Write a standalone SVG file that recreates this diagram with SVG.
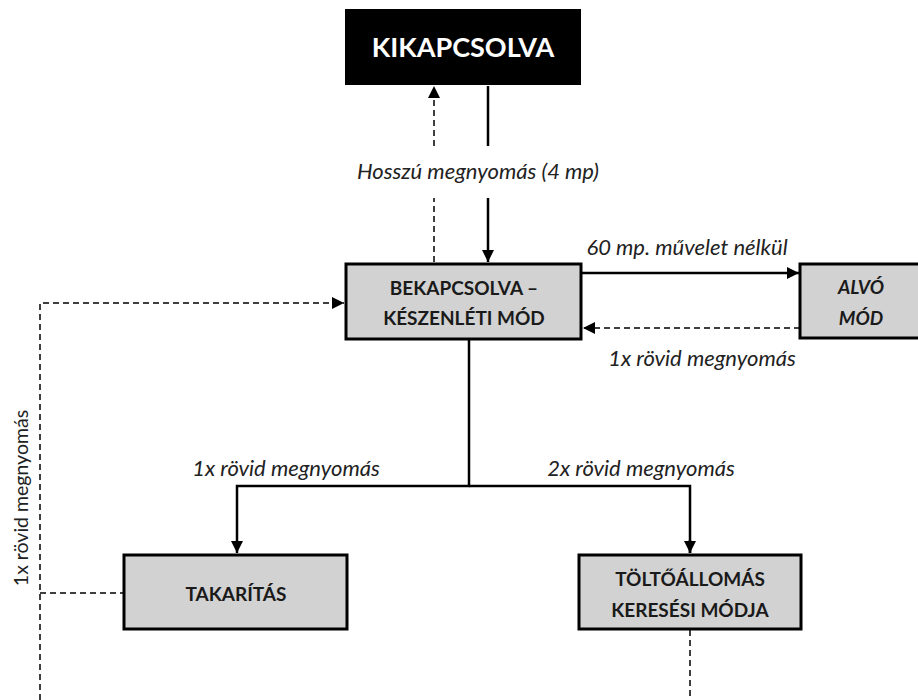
<svg xmlns="http://www.w3.org/2000/svg" width="918" height="700" viewBox="0 0 918 700">
<style>
.box{fill:#d2d2d2;stroke:#000;stroke-width:3}
.bt{font-family:Lato,"Liberation Sans",sans-serif;font-weight:bold;font-size:19px;fill:#1a1a1a;text-anchor:middle}
.lbl{font-family:Lato,"Liberation Sans",sans-serif;font-style:italic;font-size:22px;fill:#222;text-anchor:middle}
.solid{fill:none;stroke:#000;stroke-width:2.5}
.dash{fill:none;stroke:#000;stroke-width:1.5;stroke-dasharray:6 4}
</style>
<defs>
<marker id="ah" markerUnits="userSpaceOnUse" markerWidth="14" markerHeight="14" refX="12" refY="6" orient="auto">
<path d="M0,0 L12,6 L0,12 Z" fill="#000"/>
</marker>
</defs>
<rect width="918" height="700" fill="#fff"/>
<g id="connectors">
<line class="dash" x1="434" y1="262" x2="434" y2="198"/>
<line class="dash" x1="434" y1="146" x2="434" y2="86" marker-end="url(#ah)"/>
<line class="solid" x1="488" y1="86" x2="488" y2="146"/>
<line class="solid" x1="488" y1="198" x2="488" y2="262" marker-end="url(#ah)"/>
<line class="solid" x1="581" y1="273" x2="799" y2="273" marker-end="url(#ah)"/>
<line class="dash" x1="800" y1="328" x2="583" y2="328" marker-end="url(#ah)"/>
<polyline class="solid" points="469,339 469,486 237,486 237,553" marker-end="url(#ah)"/>
<polyline class="solid" points="469,486 690,486 690,553"/>
<line class="solid" x1="690" y1="540" x2="690" y2="553" marker-end="url(#ah)"/>
<polyline class="dash" points="40,700 40,303 344,303" marker-end="url(#ah)"/>
<line class="dash" x1="40" y1="593" x2="124" y2="593"/>
<line class="dash" x1="690" y1="630" x2="690" y2="700"/>
<text class="lbl" x="478" y="179">Hosszú megnyomás (4 mp)</text>
<text class="lbl" x="687" y="255">60 mp. művelet nélkül</text>
<text class="lbl" x="702" y="366">1x rövid megnyomás</text>
<text class="lbl" x="286" y="476">1x rövid megnyomás</text>
<text class="lbl" x="641" y="476">2x rövid megnyomás</text>
<text x="0" y="0" transform="translate(28,498) rotate(-90)" font-family="Lato,'Liberation Sans',sans-serif" font-size="19.5" fill="#222" text-anchor="middle">1x rövid megnyomás</text>
</g>
<g id="kikapcsolva">
<rect x="345" y="9" width="236" height="76" fill="#000"/>
<text x="463" y="57" font-family="Lato,'Liberation Sans',sans-serif" font-weight="bold" font-size="27" fill="#fff" text-anchor="middle">KIKAPCSOLVA</text>
</g>
<g id="bekapcsolva">
<rect class="box" x="346" y="264" width="235" height="75"/>
<text class="bt" x="464" y="295">BEKAPCSOLVA –</text>
<text class="bt" x="464" y="325">KÉSZENLÉTI MÓD</text>
</g>
<g id="alvo">
<rect class="box" x="800" y="264" width="125" height="74"/>
<text class="bt" x="861" y="294" font-style="italic">ALVÓ</text>
<text class="bt" x="861" y="325" font-style="italic">MÓD</text>
</g>
<g id="takaritas">
<rect class="box" x="124" y="555" width="223" height="74"/>
<text class="bt" x="236" y="601">TAKARÍTÁS</text>
</g>
<g id="toltoallomas">
<rect class="box" x="579" y="555" width="222" height="74"/>
<text class="bt" x="690" y="586">TÖLTŐÁLLOMÁS</text>
<text class="bt" x="690" y="617">KERESÉSI MÓDJA</text>
</g>
</svg>
